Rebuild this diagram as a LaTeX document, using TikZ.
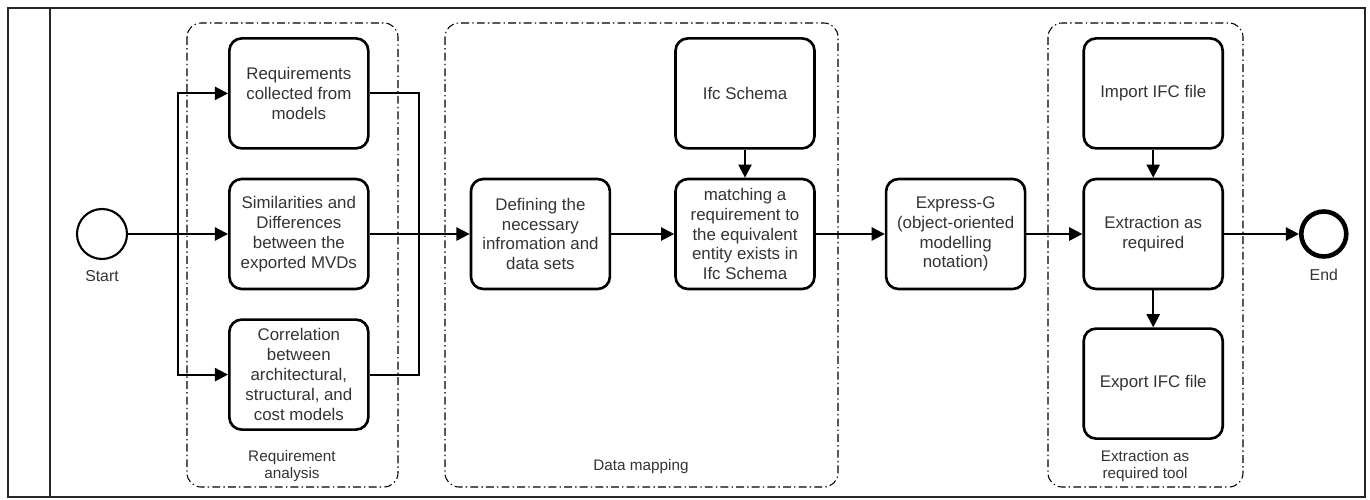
\documentclass[tikz,border=0pt]{standalone}
\usepackage{fontspec}
\setmainfont{Liberation Sans}
\usetikzlibrary{arrows.meta,positioning}

\begin{document}
\begin{tikzpicture}[
    x=0.02cm, y=-0.02cm,
    node distance=0.56cm,
    task/.style={rectangle, draw, line width=1.5pt, rounded corners=7pt, minimum width=2.78cm, minimum height=2.2cm, align=center, text=black!80, font=\fontsize{9.6}{11.3}\selectfont},
    event/.style={circle, draw, minimum size=1cm, line width=1.2pt, label={[font=\fontsize{9}{10}\selectfont, text=black!80, label distance=0.08cm]below:#1}},
    endevent/.style={event=#1, line width=2.6pt, minimum size=0.9cm},
    group/.style={draw, line width=0.6pt, rounded corners=8pt, dash pattern=on 4.5pt off 1.8pt on 0.8pt off 1.8pt},
    grouplabel/.style={align=center, text=black!80, font=\fontsize{8.7}{9.6}\selectfont},
    flow/.style={-{Triangle[length=7.5pt,width=7.5pt]}, line width=1.2pt},
    link/.style={line width=1.2pt}
]
\useasboundingbox (0,0) rectangle (1370,500);

% Pool frame
\draw[line width=1.3pt, black!85] (8,8) rectangle (1365,497);
\draw[line width=1.3pt, black!85] (50,8) -- (50,497);

% Group frames
\draw[group] (187,23) rectangle (398,487);
\draw[group] (445,23) rectangle (838,487);
\draw[group] (1048,23) rectangle (1243,487);
\node[grouplabel] (reqlabel) at (292,466) {Requirement\\analysis};
\node[grouplabel] (maplabel) at (641,467) {Data mapping};
\node[grouplabel] (toollabel) at (1145,466) {Extraction as\\required tool};

% Events and tasks
\node[event=Start] (start) at (102,234) {};
\node[task, right=2cm of start] (sim) {Similarities and\\Differences\\between the\\exported MVDs};
\node[task, above=of sim] (req) {Requirements\\collected from\\models};
\node[task, below=of sim] (cor) {Correlation\\between\\architectural,\\structural, and\\cost models};
\node[task, right=2cm of sim] (def) {Defining the\\necessary\\infromation and\\data sets};
\node[task, right=1.26cm of def] (mat) {matching a\\requirement to\\the equivalent\\entity exists in\\Ifc Schema};
\node[task, above=of mat] (ifc) {Ifc Schema};
\node[task, right=1.38cm of mat] (exg) {Express-G\\(object-oriented\\modelling\\notation)};
\node[task, right=1.12cm of exg] (ext) {Extraction as\\required};
\node[task, above=of ext] (imp) {Import IFC file};
\node[task, below=0.74cm of ext] (exo) {Export IFC file};
\node[endevent=End, right=1.5cm of ext] (end) {};

% Split and merge points
\coordinate[right=1cm of start] (split);
\coordinate[right=0.98cm of sim] (merge);

% Requirement analysis
\draw[link] (start) -- (split);
\draw[flow] (split) |- (req);
\draw[flow] (split) -- (sim);
\draw[flow] (split) |- (cor);
\draw[link] (req) -| (merge);
\draw[link] (cor) -| (merge);

% Data mapping
\draw[flow] (sim) -- (def);
\draw[flow] (def) -- (mat);
\draw[flow] (ifc) -- (mat);
\draw[flow] (mat) -- (exg);

% Extraction tool
\draw[flow] (exg) -- (ext);
\draw[flow] (imp) -- (ext);
\draw[flow] (ext) -- (exo);
\draw[flow] (ext) -- (end);

\end{tikzpicture}
\end{document}
